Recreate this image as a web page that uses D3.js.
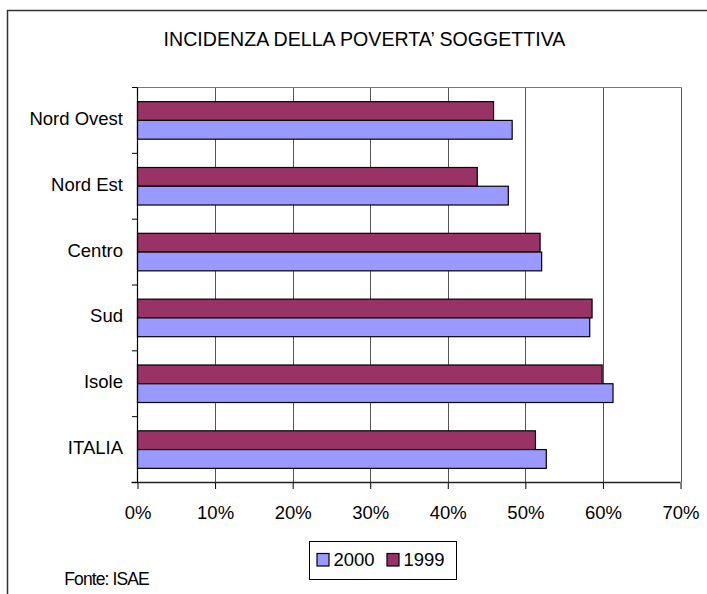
<!DOCTYPE html>
<html>
<head>
<meta charset="utf-8">
<script src="https://cdn.jsdelivr.net/npm/d3@7"></script>
<style>
  html, body { margin: 0; padding: 0; background: #fff; }
  svg { display: block; font-family: "Liberation Sans", Arial, sans-serif; }
</style>
</head>
<body>
<svg id="chart" width="707" height="594"></svg>
<script>
const title = "INCIDENZA DELLA POVERTA’ SOGGETTIVA";
const categories = ["Nord Ovest", "Nord Est", "Centro", "Sud", "Isole", "ITALIA"];
const series = ["1999", "2000"];
const legendOrder = ["2000", "1999"];
const values1999 = [45.9, 43.8, 51.9, 58.6, 59.9, 51.3];
const values2000 = [48.3, 47.8, 52.1, 58.3, 61.3, 52.7];
const xTicks = [0, 10, 20, 30, 40, 50, 60, 70];
const colors = { "2000": "#9999FF", "1999": "#993366" };
const source = "Fonte: ISAE";

(function () {
const valuesBySeries = { "1999": values1999, "2000": values2000 };
const data = categories.map((c, i) => ({ cat: c, vals: series.map(s => ({ s, v: valuesBySeries[s][i] })) }));

const svg = d3.select("#chart");
const pLeft = 137.5, pRight = 680.5, pTop = 87.5, pBottom = 482.5;

// outer chart border
svg.append("rect").attr("x", 7.5).attr("y", 10.5).attr("width", 710).attr("height", 600)
  .attr("fill", "none").attr("stroke", "#333").attr("stroke-width", 1.5);

// title
svg.append("text").attr("x", 364.5).attr("y", 45.7).attr("text-anchor", "middle")
  .attr("font-size", "19.6px").attr("fill", "#000").text(title);

const x = d3.scaleLinear().domain([0, 70]).range([pLeft, pRight]);
const y = d3.scaleBand().domain(categories).range([pTop, pBottom]).paddingInner(0.43).paddingOuter(0.215);
const y1 = d3.scaleBand().domain(series).range([0, y.bandwidth()]);

// gridlines
svg.append("g").selectAll("line").data(xTicks.filter(t => t > 0)).join("line")
  .attr("x1", d => Math.round(x(d)) + 0.5).attr("x2", d => Math.round(x(d)) + 0.5)
  .attr("y1", pTop).attr("y2", pBottom)
  .attr("stroke", "#555").attr("stroke-width", 1);
// top border of plot area
svg.append("line").attr("x1", pLeft).attr("x2", Math.round(pRight) + 0.5).attr("y1", pTop).attr("y2", pTop)
  .attr("stroke", "#777").attr("stroke-width", 1);

// bars
const groups = svg.append("g").selectAll("g").data(data).join("g")
  .attr("transform", d => `translate(0,${y(d.cat)})`);
groups.selectAll("rect").data(d => d.vals).join("rect")
  .attr("x", x(0))
  .attr("y", d => y1(d.s))
  .attr("width", d => x(d.v) - x(0))
  .attr("height", y1.bandwidth())
  .attr("fill", d => colors[d.s])
  .attr("stroke", "#000").attr("stroke-width", 1.2);

// x axis
const xAxis = d3.axisBottom(x).tickValues(xTicks).tickFormat(d => d + "%").tickSize(6.5).tickPadding(0);
const gx = svg.append("g").attr("transform", `translate(0,${pBottom})`).call(xAxis);
gx.select(".domain").remove();
gx.selectAll(".tick line").attr("stroke", "#000");
gx.selectAll(".tick text").attr("font-size", "18.5px").attr("font-family", "Liberation Sans, Arial, sans-serif")
  .attr("fill", "#000").attr("dy", null).attr("y", 36.5);
svg.append("line").attr("x1", 131.5).attr("x2", pRight).attr("y1", pBottom).attr("y2", pBottom)
  .attr("stroke", "#222").attr("stroke-width", 1.3);

// y axis
const boundaries = categories.map(c => y(c) - y.step() * y.paddingInner() / 2).concat([pBottom]);
svg.append("line").attr("x1", pLeft).attr("x2", pLeft).attr("y1", pTop).attr("y2", pBottom)
  .attr("stroke", "#000").attr("stroke-width", 1.2);
svg.append("g").selectAll("line").data(boundaries).join("line")
  .attr("x1", pLeft - 5.5).attr("x2", pLeft).attr("y1", d => d).attr("y2", d => d)
  .attr("stroke", "#000").attr("stroke-width", 1);
svg.append("g").selectAll("text").data(categories).join("text")
  .attr("x", 123).attr("y", d => y(d) + y.bandwidth() / 2 + 4.5)
  .attr("text-anchor", "end").attr("font-size", "18.5px").attr("fill", "#000").text(d => d);

// legend
const lg = svg.append("g");
lg.append("rect").attr("x", 309.5).attr("y", 541.5).attr("width", 147).attr("height", 38)
  .attr("fill", "#fff").attr("stroke", "#000").attr("stroke-width", 1);
const legendX = { "2000": 317, "1999": 387 };
legendOrder.forEach(s => {
  lg.append("rect").attr("x", legendX[s]).attr("y", 553.5).attr("width", 12).attr("height", 12.5)
    .attr("fill", colors[s]).attr("stroke", "#000").attr("stroke-width", 1.2);
  lg.append("text").attr("x", legendX[s] + 16.5).attr("y", 565.7).attr("font-size", "18.5px")
    .attr("fill", "#000").text(s);
});

// source note
svg.append("text").attr("x", 64.3).attr("y", 585).attr("font-size", "17.5px")
  .attr("letter-spacing", "-0.9px").attr("fill", "#000").text(source);
})();
</script>
</body>
</html>
